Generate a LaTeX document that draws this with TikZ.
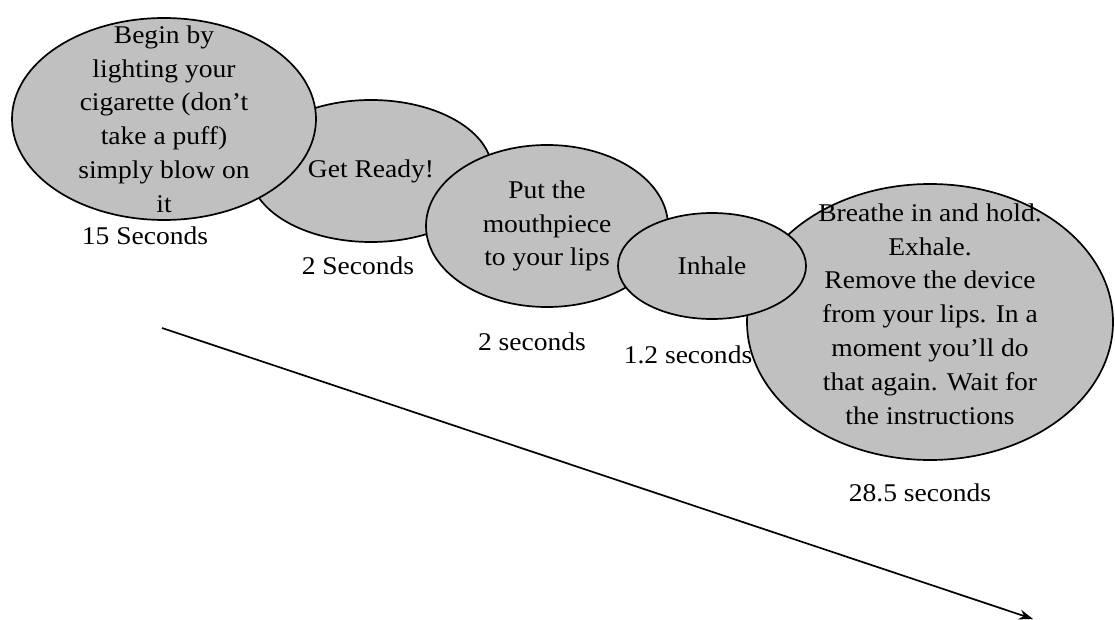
\documentclass[tikz,border=0pt]{standalone}
\usepackage{fontspec}
\setmainfont[FakeStretch=1.08]{Liberation Serif}
\usetikzlibrary{shapes.geometric,arrows.meta}
\definecolor{stepgray}{RGB}{192,192,192}
\tikzset{
  stage/.style={ellipse, draw=black, fill=stepgray, line width=1.7pt, inner sep=0pt},
  stagetext/.style={align=center, inner sep=0pt, font=\fontsize{25.5}{33.8}\selectfont},
  timing/.style={font=\fontsize{25.5}{30}\selectfont, inner sep=0pt}
}
\begin{document}
\begin{tikzpicture}[x=1pt,y=-1pt]
\useasboundingbox (0,0) rectangle (1115,620);

% stages, back to front
\node[stage, minimum width=242pt, minimum height=142pt] (ready) at (371,171) {};
\node[stagetext] (readytxt) at (ready.center) {Get Ready!};
\node[stage, minimum width=304pt, minimum height=202pt] (light) at (164,119) {};
\node[stagetext] (lighttxt) at (light.center)
  {Begin by\\lighting your\\cigarette (don’t\\take a puff)\\simply blow on\\it};
\node[stage, minimum width=242pt, minimum height=162pt] (mouth) at (547,226) {};
\node[stagetext] (mouthtxt) at (mouth.center) {Put the\\mouthpiece\\to your lips};
\node[stage, minimum width=366pt, minimum height=276pt] (breathe) at (930,322) {};
\node[stagetext] (breathetxt) at ([yshift=8pt]breathe.center)
  {Breathe in and hold.\\Exhale.\\Remove the device\\from your lips. In a\\moment you’ll do\\that again. Wait for\\the instructions};
\node[stage, minimum width=188pt, minimum height=106pt] (inhale) at (712,266) {};
\node[stagetext] (inhaletxt) at (inhale.center) {Inhale};

% durations
\node[timing] (t1) at (145,236) {15 Seconds};
\node[timing] (t2) at (358,266) {2 Seconds};
\node[timing] (t3) at (532,342) {2 seconds};
\node[timing] (t4) at (688,355) {1.2 seconds};
\node[timing] (t5) at (920,493) {28.5 seconds};

% time axis
\coordinate (tstart) at (162,328);
\coordinate (tend) at (1033,619);
\draw[line width=1.7pt, -{Stealth[length=14pt,width=10pt]}] (tstart) -- (tend);
\end{tikzpicture}
\end{document}
